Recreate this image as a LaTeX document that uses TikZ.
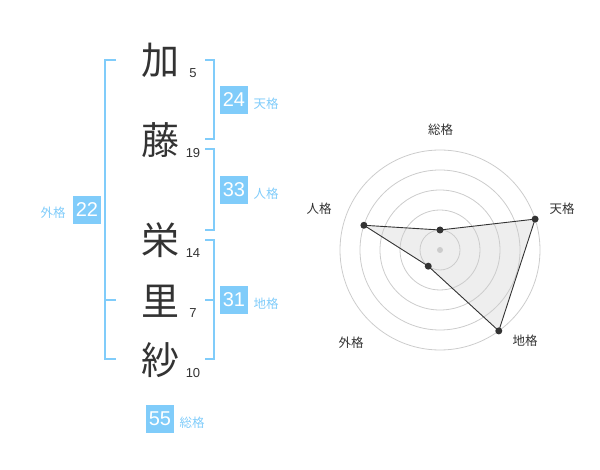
\documentclass[tikz,border=0pt]{standalone}
\usepackage{fontspec}
\setmainfont{Liberation Sans}
\newfontfamily\jpfont{Noto Sans CJK JP}
\usepackage{xcolor}
\usetikzlibrary{positioning}
\definecolor{kakublue}{HTML}{80CCFA}
\definecolor{inkgray}{HTML}{333333}
\definecolor{ringgray}{HTML}{CCCCCC}
\definecolor{polyfill}{HTML}{EEEEEE}

\begin{document}
\begin{tikzpicture}
	[x=1pt,y=-1pt,
	kanji/.style = {
		text=inkgray, inner sep=0,
		font=\jpfont\fontsize{38}{38}\selectfont
	},
	strokes/.style = {
		text=inkgray, inner sep=0,
		font=\fontsize{13}{13}\selectfont
	},
	numbox/.style = {
		fill=kakublue, text=white, minimum size=28pt, inner sep=0,
		font=\fontsize{20}{20}\selectfont
	},
	kaku/.style = {
		text=kakublue, inner sep=0,
		font=\jpfont\fontsize{12.5}{12.5}\selectfont
	},
	bracket/.style = {
		draw=kakublue, line width=2
	},
	ring/.style = {
		draw=ringgray, line width=0.8
	},
	vtx/.style = {
		fill=inkgray, circle, inner sep=0cm, minimum size=7pt
	},
	axislabel/.style = {
		text=inkgray, inner sep=0,
		font=\jpfont\fontsize{12.5}{12.5}\selectfont
	}]
	
	\useasboundingbox (0,0) rectangle (600,470);
	
	%Draw name
	\node[kanji] at (160,60) (c1) {加};
	\node[kanji] at (160,140) (c2) {藤};
	\node[kanji] at (160,240) (c3) {栄};
	\node[kanji] at (160,301) (c4) {里};
	\node[kanji] at (160,360) (c5) {紗};
	
	\node[strokes] at (193,72.7) (s1) {5};
	\node[strokes] at (193,152.7) (s2) {19};
	\node[strokes] at (193,252.7) (s3) {14};
	\node[strokes] at (193,312.7) (s4) {7};
	\node[strokes] at (193,372.7) (s5) {10};
	
	%Draw boxes
	\node[numbox] at (234,100) (ten) {24};
	\node[kaku] at (266,104) (tenl) {天格};
	\node[numbox] at (234,190) (jin) {33};
	\node[kaku] at (266,194) (jinl) {人格};
	\node[numbox] at (234,300) (chi) {31};
	\node[kaku] at (266,304) (chil) {地格};
	\node[numbox] at (87,210) (gai) {22};
	\node[kaku] at (53,213) (gail) {外格};
	\node[numbox] at (160,419) (sou) {55};
	\node[kaku] at (192,423) (soul) {総格};
	
	%Draw brackets
	\draw[bracket] (116,60) -- (105,60) -- (105,359) -- (116,359);
	\draw[bracket] (105,300) -- (116,300);
	\draw[bracket] (205,60) -- (214,60) -- (214,139) -- (205,139);
	\draw[bracket] (205,149) -- (214,149) -- (214,230) -- (205,230);
	\draw[bracket] (205,240) -- (214,240) -- (214,359) -- (205,359);
	\draw[bracket] (214,300) -- (205,300);
	
	%Draw radar
	\begin{scope}[shift={(440,250)},yscale=-1]
		\coordinate (o) at (0,0);
		\coordinate (psou) at (90:20);
		\coordinate (pten) at (18:100);
		\coordinate (pchi) at (-54:100);
		\coordinate (pgai) at (-126:20);
		\coordinate (pjin) at (162:80);
		
		\fill[polyfill] (psou) -- (pten) -- (pchi) -- (pgai) -- (pjin) -- cycle;
		\foreach \r in {20,40,60,80,100}
			\draw[ring] (o) circle[radius=\r];
		\fill[ringgray] (o) circle[radius=3];
		\draw[inkgray, line width=0.9] (psou) -- (pten) -- (pchi) -- (pgai) -- (pjin) -- cycle;
		
		\foreach \p in {psou,pten,pchi,pgai,pjin}
			\node[vtx] at (\p) {};
	\end{scope}
	
	\node[axislabel] at (440.5,130) (asou) {総格};
	\node[axislabel] at (562,209) (aten) {天格};
	\node[axislabel] at (525,341) (achi) {地格};
	\node[axislabel] at (351,342.5) (agai) {外格};
	\node[axislabel] at (319,209) (ajin) {人格};
	
\end{tikzpicture}
\end{document}
